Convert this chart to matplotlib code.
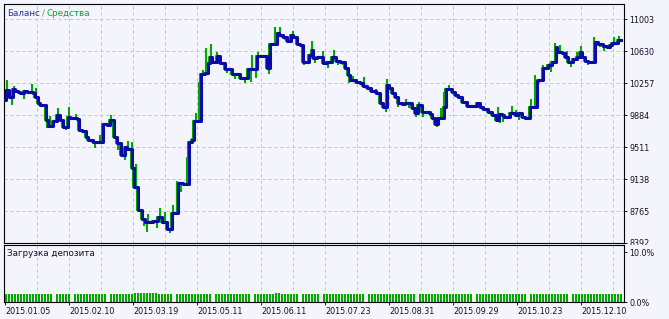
import numpy as np
import matplotlib
matplotlib.use("Agg")
import matplotlib.pyplot as plt
from matplotlib.transforms import Bbox

# sample index along the tester chart where the balance changes, and the balance after it
bal_x = [1, 2, 5, 9, 11, 14, 16, 20, 23, 29, 31, 34, 36, 42, 44, 49, 53, 56, 59, 64,
         66, 73, 75, 78, 82, 84, 89, 99, 103, 106, 110, 113, 117, 121, 123, 128, 130, 134, 138, 141,
         149, 154, 158, 163, 168, 174, 179, 185, 188, 190, 197, 201, 204, 206, 208, 213, 216, 221, 228, 236,
         244, 253, 263, 266, 273, 275, 279, 283, 287, 289, 293, 296, 299, 305, 308, 309, 313, 319, 323, 328,
         332, 336, 341, 344, 346, 352, 356, 359, 363, 367, 372, 376, 379, 383, 385, 388, 391, 394, 398, 401,
         408, 411, 414, 418, 426, 428, 431, 434, 440, 442, 448, 451, 454, 458, 463, 473, 476, 479, 484, 488,
         492, 495, 498, 500, 506, 511, 514, 518, 521, 526, 533, 534, 539, 544, 548, 552, 553, 558, 561, 564,
         569, 573, 576, 578, 581, 584, 591, 594, 599, 603, 606, 608, 614]
balance = [10059, 10175, 10094, 10187, 10164, 10152, 10140, 10164, 10152, 10140,
           10094, 10024, 10000, 9826, 9756, 9814, 9884, 9826, 9744, 9861,
           9849, 9837, 9709, 9697, 9628, 9593, 9569, 9779, 9767, 9826,
           9628, 9558, 9418, 9511, 9488, 9266, 9045, 8777, 8672, 8637,
           8648, 8695, 8637, 8555, 8742, 9091, 9080, 9569, 9593, 9814,
           10362, 10374, 10490, 10560, 10502, 10572, 10490, 10420, 10362, 10315,
           10420, 10572, 10432, 10712, 10840, 10816, 10793, 10747, 10816, 10793,
           10712, 10700, 10502, 10583, 10642, 10548, 10560, 10490, 10502, 10560,
           10513, 10502, 10432, 10350, 10292, 10269, 10257, 10222, 10199, 10164,
           10140, 10024, 9977, 10234, 10199, 10140, 10094, 10024, 10012, 10024,
           9966, 9907, 10000, 9919, 9896, 9849, 9779, 9849, 9977, 10187,
           10152, 10117, 10094, 10036, 9989, 10024, 9977, 9954, 9919, 9884,
           9826, 9896, 9884, 9861, 9907, 9884, 9907, 9861, 9849, 9977,
           10280, 10292, 10432, 10467, 10502, 10677, 10618, 10607, 10560, 10502,
           10537, 10560, 10618, 10560, 10513, 10502, 10735, 10712, 10688, 10677,
           10700, 10723, 10758]
last_x = 617

# equity extremes (floating profit / loss spikes)
eq_x = [3, 8, 10, 20, 28, 30, 32, 40, 43, 46, 54, 62, 65, 72, 91, 96, 107, 114, 121, 124,
        128, 132, 133, 140, 143, 144, 153, 156, 161, 166, 169, 173, 177, 183, 188, 192, 195, 199, 202, 207,
        213, 223, 231, 241, 247, 248, 252, 254, 265, 267, 271, 276, 281, 289, 293, 297, 300, 308, 311, 316,
        319, 324, 330, 334, 339, 345, 349, 360, 366, 372, 382, 383, 388, 394, 402, 405, 412, 415, 419, 430,
        433, 437, 440, 445, 456, 465, 474, 478, 485, 494, 496, 499, 508, 512, 515, 523, 527, 531, 539, 546,
        547, 551, 556, 563, 567, 573, 577, 584, 590, 596, 600, 607, 610, 615]
equity = [10292, 10000, 10222, 10070, 10245, 10082, 10199, 10012, 9732, 9872,
          9966, 9709, 9977, 9896, 9499, 9651, 9884, 9476, 9359, 9581,
          9569, 9313, 8975, 8590, 8520, 8730, 8567, 8800, 8753, 8509,
          8835, 9115, 8986, 9394, 9616, 9907, 10269, 10408, 10665, 10712,
          10618, 10374, 10304, 10257, 10269, 10583, 10315, 10618, 10362, 10723,
          10910, 10910, 10758, 10863, 10770, 10677, 10467, 10747, 10490, 10548,
          10630, 10432, 10642, 10467, 10467, 10257, 10339, 10327, 10152, 10187,
          9919, 10304, 10175, 9977, 10070, 9966, 9861, 10036, 9861, 9802,
          9744, 9966, 10152, 10234, 10070, 9977, 10036, 9954, 9907, 9977,
          9791, 9802, 9989, 9942, 9826, 9826, 10070, 10350, 10467, 10490,
          10385, 10723, 10700, 10630, 10443, 10618, 10688, 10467, 10793, 10677,
          10630, 10723, 10793, 10805]

# deposit load per deal, %
load = [1.7, 1.7, 1.7, 1.7, 1.7, 1.7, 1.7, 1.7, 1.7, 1.7,
        1.7, 1.7, 1.7, 1.7, 1.7, 1.7, 0.0, 1.7, 1.7, 1.7,
        1.7, 1.7, 0.0, 1.7, 1.7, 1.7, 1.7, 1.7, 1.7, 1.7,
        1.7, 1.7, 1.7, 1.7, 0.0, 1.7, 1.7, 1.7, 1.7, 1.7,
        1.7, 1.7, 1.7, 1.8, 1.9, 1.8, 1.9, 1.9, 1.8, 1.9,
        1.9, 1.7, 1.7, 1.7, 1.7, 1.7, 0.0, 1.7, 1.7, 1.7,
        1.7, 1.7, 1.7, 1.7, 1.7, 1.7, 1.7, 1.7, 1.7, 0.0,
        1.7, 1.7, 1.7, 1.7, 1.7, 1.7, 1.7, 1.7, 1.7, 1.7,
        1.7, 1.7, 0.0, 1.7, 1.7, 1.7, 1.7, 1.7, 1.7, 1.7,
        1.8, 1.8, 1.7, 1.7, 1.7, 1.7, 1.7, 1.7, 0.0, 1.7,
        1.7, 1.7, 1.7, 1.7, 1.7, 0.0, 1.7, 1.7, 1.7, 1.7,
        1.7, 1.7, 1.7, 1.7, 1.7, 1.7, 1.7, 1.7, 1.7, 1.7,
        0.0, 1.7, 1.7, 1.7, 1.7, 1.7, 1.7, 1.7, 1.7, 1.7,
        1.7, 1.7, 1.7, 1.7, 1.7, 1.7, 1.7, 0.0, 1.7, 1.7,
        1.7, 1.7, 1.7, 1.7, 1.7, 1.7, 1.7, 1.7, 1.7, 1.7,
        1.7, 1.7, 1.7, 1.7, 1.7, 1.7, 0.0, 1.7, 1.7, 1.7,
        1.7, 1.7, 1.6, 1.6, 1.6, 1.6, 1.6, 1.6, 1.7, 1.7,
        1.7, 1.7, 1.7, 1.7, 0.0, 1.7, 1.7, 1.7, 1.7, 1.7,
        1.7, 1.7, 1.7, 1.7, 1.7, 1.7, 1.7, 1.7, 0.0, 1.7,
        1.7, 1.7, 1.7, 1.7, 1.7, 1.7, 1.7, 1.7, 1.7, 1.7,
        1.7, 1.7, 1.7, 1.7, 1.7, 1.7]

yticks = [8392, 8765, 9138, 9511, 9884, 10257, 10630, 11003]
date_labels = ["2015.01.05", "2015.02.10", "2015.03.19", "2015.05.11", "2015.06.11",
               "2015.07.23", "2015.08.31", "2015.09.29", "2015.10.23", "2015.12.10"]

bg = "#F4F4FC"
blue = "#0A0AA8"
green = "#00A800"
gridc = "#C4C4C8"
txtc = "#10102A"

W, H = 669, 319
fig = plt.figure(figsize=(W / 100, H / 100), dpi=100, facecolor=bg)
ax = fig.add_axes([4 / W, 1 - 243 / H, 620 / W, 239 / H], facecolor=bg)
ax2 = fig.add_axes([4 / W, 1 - 302 / H, 620 / W, 57 / H], facecolor=bg)

plt.rcParams["font.family"] = "DejaVu Sans"
fs = 5.8

grid_x = np.arange(33, 620, 32)
for a in (ax, ax2):
    a.set_xlim(0, 620)
    for gx in grid_x:
        a.axvline(gx, color=gridc, lw=0.72, ls=(0, (3, 3)), zorder=0)
    for s in a.spines.values():
        s.set_color("black")
        s.set_linewidth(0.8)
    a.yaxis.tick_right()
    a.tick_params(axis="y", length=2.2, width=0.7, pad=1.5, labelsize=fs, colors=txtc)

# main panel
ax.set_ylim(8392, 11178)
for gy in yticks[1:]:
    ax.axhline(gy, color=gridc, lw=0.72, ls=(0, (3, 3)), zorder=0)
ax.set_yticks(yticks)
ax.set_yticklabels([str(v) for v in yticks])
ax.set_xticks([])

bx = np.array(bal_x + [last_x])
bv = np.array(balance + [balance[-1]])
# equity trace (peeks out around balance) and its spikes
ax.step(bx - 1, bv, where="post", color=green, lw=1.5, zorder=2)
base = bv[np.searchsorted(bx, eq_x, side="right") - 1]
ax.vlines(eq_x, base, equity, color=green, lw=1.5, zorder=2)
ax.step(bx, bv, where="post", color=blue, lw=2.2, zorder=3)

# deposit load panel
ax2.set_ylim(0, 11.5)
ax2.set_yticks([0, 10])
ax2.set_yticklabels(["0.0%", "10.0%"])
bar_x = np.arange(len(load)) * 3 + 1
ax2.bar(bar_x, load, width=2, align="edge", color=green, lw=0, zorder=2)
ax2.set_xticks(np.arange(1, 620, 64))
ax2.set_xticklabels(date_labels)
ax2.tick_params(axis="x", length=2.2, width=0.7, pad=1.5, labelsize=fs, colors=txtc)
for lab in ax2.get_xticklabels():
    lab.set_ha("left")

# the lowest balance label is cut off by the lower panel, as in the terminal
fig.canvas.draw()
r = fig.canvas.get_renderer()
ax.get_yticklabels()[0].set_clip_box(Bbox.from_extents(0, H - 245, W, H))
ax.get_yticklabels()[0].set_clip_on(True)

# captions
t = fig.text(7 / W, 1 - 13 / H, "Баланс", color="#3030A0", fontsize=6.3, va="center")
x0 = t.get_window_extent(r).x1
t2 = fig.text(x0 / W + 2 / W, 1 - 13 / H, "/", color="#8080A0", fontsize=6.3, va="center")
x1 = t2.get_window_extent(r).x1
fig.text(x1 / W + 2 / W, 1 - 13 / H, "Средства", color="#10A040", fontsize=6.3, va="center")
fig.text(7 / W, 1 - 254 / H, "Загрузка депозита", color=txtc, fontsize=6.3, va="center")

fig.savefig("out.png", dpi=100, facecolor=bg)
